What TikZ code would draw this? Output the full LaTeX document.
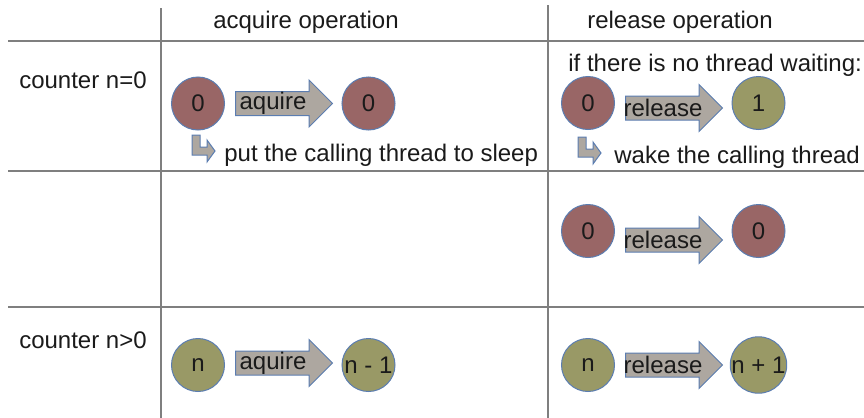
\documentclass[tikz,border=0pt]{standalone}
\usepackage{fontspec}
\setmainfont{Liberation Sans}
\usepackage{xcolor}
\definecolor{stateRed}{HTML}{996666}
\definecolor{stateOlive}{HTML}{999966}
\definecolor{opGray}{HTML}{ADA7A0}
\definecolor{edgeBlue}{HTML}{5B7DB1}
\definecolor{ruleGray}{HTML}{7F7F7F}
\definecolor{darkText}{HTML}{1A1A1A}
\usepackage{tikz}
\usetikzlibrary{
    shapes.arrows,
    positioning
}
\tikzset{
    % Base style for the counter circles
    counter base/.style={
        circle,
        draw=edgeBlue,
        line width=0.5pt,
        minimum size=26.5pt,
        inner sep=0pt,
        text=darkText,
    },
    zero state/.style={counter base, fill=stateRed},
    pos state/.style={counter base, fill=stateOlive},
    % Block arrow for an operation, its name laid over the middle
    op arrow/.style={
        single arrow,
        draw=edgeBlue,
        fill=opGray,
        line width=0.5pt,
        minimum height=48.5pt,
        minimum width=23pt,
        single arrow head extend=5.75pt,
        inner xsep=0pt,
        inner ysep=5.75pt,
        text height=0pt,
        text depth=0pt,
        label={[xshift=-2.5pt, inner sep=0pt, text=darkText]center:#1},
    },
    % Table rules
    rule line/.style={draw=ruleGray, line width=1pt},
    % Plain text set left aligned
    note/.style={anchor=west, inner sep=0pt, text=darkText},
    % Small bent arrow under a circle
    turn arrow/.pic={
        \path[draw=edgeBlue, fill=opGray, line width=0.5pt]
            (0,0) -- (8,0) -- (8,12) -- (15,12) -- (15,5) -- (23,16)
            -- (15,27) -- (15,20) -- (0,20) -- cycle;
    },
}

\begin{document}
\begin{tikzpicture}[x=0.5pt, y=-0.5pt, node distance=5pt,
    font=\fontsize{12pt}{14pt}\selectfont]
    \useasboundingbox (0,0) rectangle (864,418);

    % table rules
    \draw[rule line] (8,41) -- (864,41);
    \draw[rule line] (8,171) -- (864,171);
    \draw[rule line] (8,307) -- (864,307);
    \draw[rule line] (161,8) -- (161,418);
    \draw[rule line] (548,5) -- (548,418);

    % headers
    \node (hacq) [text=darkText] at (306,22) {acquire operation};
    \node (hrel) [text=darkText] at (680,22) {release operation};
    \node (cnt0) [text=darkText] at (83,80) {counter n=0};
    \node (cntn) [text=darkText] at (83,340) {counter n>0};

    % n = 0, acquire
    \node (az0) [zero state] at (198,103.5) {0};
    \node (aop0) [op arrow=aquire, right=of az0] {};
    \node (az1) [zero state] at (368.5,103.5) {0};
    \pic at (192,135) {turn arrow};
    \node (asleep) [note] at (224,155) {put the calling thread to sleep};

    % n = 0, release
    \node (rnone) [note] at (568,65) {if there is no thread waiting:};
    \node (rz0) [zero state] at (588,103) {0};
    \node (rop0) [op arrow=release, right=of rz0, yshift=-2.5pt] {};
    \node (rz1) [pos state] at (758.5,103) {1};
    \pic at (578,137) {turn arrow};
    \node (rwake) [note] at (614,157) {wake the calling thread};

    \node (wz0) [zero state] at (588,231) {0};
    \node (wop0) [op arrow=release, right=of wz0, yshift=-4.5pt] {};
    \node (wz1) [zero state] at (758.5,231) {0};

    % n > 0
    \node (an0) [pos state] at (198,365) {n};
    \node (aopn) [op arrow=aquire, right=of an0, yshift=1pt] {};
    \node (an1) [pos state] at (368.5,365) {n - 1};

    \node (rn0) [pos state] at (588,365) {n};
    \node (ropn) [op arrow=release, right=of rn0] {};
    \node (rn1) [pos state] at (758.5,365) {n + 1};
\end{tikzpicture}
\end{document}
